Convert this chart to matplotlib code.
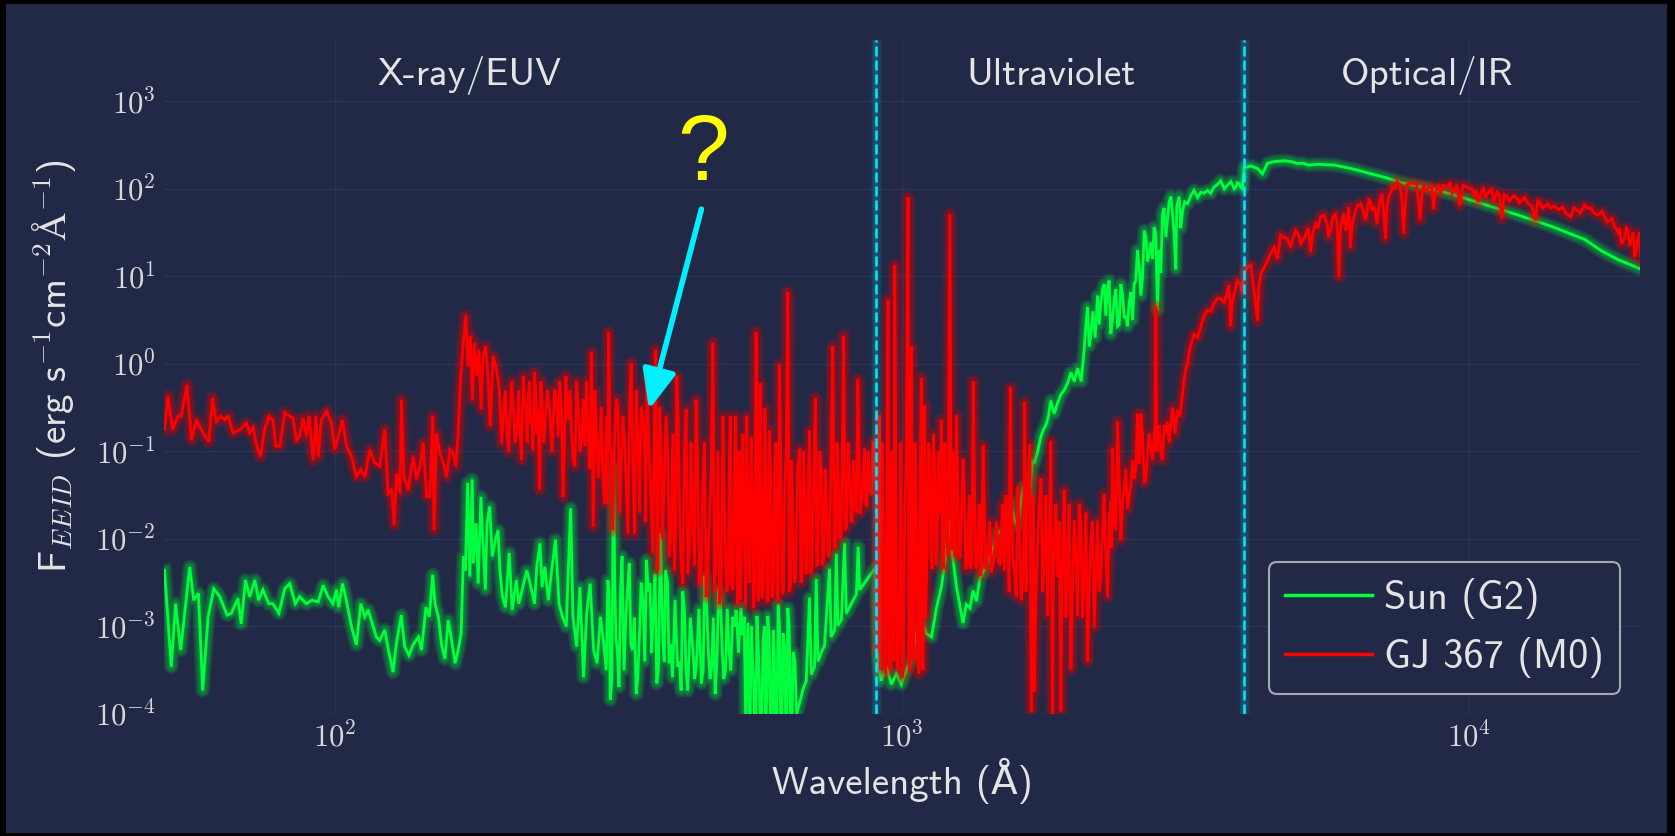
import numpy as np
import matplotlib
matplotlib.use("Agg")
import matplotlib.pyplot as plt
from matplotlib.patches import Rectangle
from matplotlib.ticker import FixedLocator, FuncFormatter, NullLocator
from matplotlib.font_manager import FontProperties

plt.rcParams['mathtext.fontset'] = 'cm'

# ---------------- data: (wavelength [Angstrom], log10 flux [erg s-1 cm-2 A-1]) ----------------
sun_xray = [(50.1,-2.36),(51.5,-3.46),(52.4,-2.74),(53.5,-3.27),(55.5,-2.32),(56.4,-2.70),(57.5,-2.62),
            (58.5,-3.73),(59.8,-2.89),(61.2,-2.57),(62.7,-2.66),(64.6,-2.87),(65.7,-2.85),(67.5,-2.68),
            (68.4,-2.97),(69.6,-2.47),(70.8,-2.66),(72.3,-2.47),(73.4,-2.70),(74.7,-2.58),(76.5,-2.74),
            (77.8,-2.74),(79.7,-2.85),(81.6,-2.57),(83.3,-2.51),(85.2,-2.74),(86.7,-2.66),(89.1,-2.74),
            (91.2,-2.70),(93.5,-2.72),(95.4,-2.53),(97.3,-2.66),(99.3,-2.74),(100.7,-2.58),(101.6,-2.78),
            (103.2,-2.51),(104.8,-2.70),(107.0,-3.00),(109.2,-3.21),(111.1,-2.74),(113.0,-2.89),
            (114.5,-2.81),(116.0,-2.93),(118.4,-3.12),(120.0,-3.16),(122.5,-3.04),(124.5,-3.29),
            (126.7,-3.52),(128.4,-3.20),(131.0,-2.87),(132.8,-3.23),(135.2,-3.33),(137.4,-3.21),
            (140.5,-3.12),(142.2,-3.27),(144.8,-2.78),(146.8,-2.89),(148.8,-2.41),(150.2,-2.74),
            (152.3,-2.89),(154.3,-3.21),(156.4,-3.37),(158.5,-2.93)]
sun_euv = [(160,-3.08),(163,-3.42),(165,-3.27),(167,-3.08),(168.6,-2.20),(170,-2.36),(171.5,-1.36),
           (173,-2.43),(174.7,-1.32),(175.5,-2.28),(177.5,-1.82),(179,-2.51),(181,-1.52),(182.5,-2.05),
           (184.3,-2.58),(185.5,-1.82),(187.5,-1.63),(189.5,-2.20),(192,-2.01),(194,-1.90),(195.5,-2.36),
           (197.5,-2.66),(200,-2.78),(203,-2.16),(205.5,-2.81),(209,-2.47),(211,-2.74),(214,-2.58),
           (218,-2.36),(221,-2.51),(225,-2.74),(227,-2.32),(230,-2.05),(232,-2.55),(234.5,-2.32),
           (238,-2.70),(240.5,-2.43),(245,-2.01),(248.5,-2.74),(252,-2.89),(256,-3.00),(257.5,-2.51),
           (260.5,-1.65),(263,-2.89),(267,-3.23),(270.5,-2.55),(274.5,-3.58),(278,-2.85),(282,-2.51),
           (286,-3.27),(290,-3.42),(294,-2.89),(298,-3.20),(303,-2.47),(306,-3.84),(310,-1.17),
           (313,-3.12),(317,-3.69),(321,-2.20),(326,-2.89),(330.5,-2.28),(335,-3.27),(340,-3.77),
           (344.5,-3.08),(349.5,-2.70),(354.5,-2.24),(359.5,-2.51),(364.5,-2.81),(369.5,-3.65),
           (375,-1.94),(379,-3.20),(383,-2.36),(388.5,-3.42),(394,-3.58),(402,-3.46),(408,-3.73),
           (413.5,-2.81),(419,-3.73),(428,-3.27),(434,-3.46),(443,-3.65),(449,-2.43),(455.5,-3.27),
           (462,-3.46),(468.5,-3.77),(475,-2.58),(482,-3.27),(488.5,-3.50),(495.5,-3.27),(503,-2.89),
           (510,-2.81),(520,-2.79),(527,-2.89),(530,-4.00)]
sun_euv_lines = [(301,-3.5),(304.5,-2.6),(308,-3.6),(311.5,-2.4),(315,-3.3),(319,-2.6),(323.5,-3.5),
                 (328,-2.6),(332.7,-3.2),(337.5,-2.9),(342,-3.6),(347,-2.5),(352,-3.4),(357,-2.6),
                 (362,-3.3),(367,-2.4),(372,-3.5),(377,-2.6),(381,-3.4),(386,-2.5),(391,-3.2),(398,-2.7),
                 (405,-3.4),(410.5,-2.6),(416,-3.5),(423.5,-2.9),(431,-3.6),(438.5,-2.8),(446,-3.5),
                 (452,-2.7),(458.7,-3.6),(465,-2.9),(471.7,-3.4),(478.5,-2.7),(485,-3.6),(492,-2.8),
                 (499,-3.5),(506.5,-3.0),(515,-3.3),(523.5,-3.1)]
sun_lyc = [(535,-2.96),(540,-4.04),(545,-3.37),(550,-4.20),(555,-2.88),(562,-4.04),(569,-3.17),
           (575,-4.20),(580,-2.88),(586,-4.04),(593,-3.04),(598,-4.20),(605,-2.75),(611,-4.04),
           (617,-3.08),(624,-4.20),(629,-2.79),(636,-4.04),(643,-3.29),(652,-4.00),(661,-3.85),
           (669,-3.72),(678,-3.62),(687,-2.67),(692,-3.55),(701,-3.46),(706,-2.46),(711,-3.40),
           (720,-3.30),(730,-3.22),(745,-2.34),(750,-3.12),(761,-3.04),(766,-2.17),(771,-2.99),
           (782,-2.92),(792,-2.05),(798,-2.85),(814,-2.74),(831,-2.63),(837,-2.09),(842,-2.58),
           (859,-2.50),(877,-2.42),(899,-2.33)]
sun_lyc_lines = [(537.5,-4.2),(542.5,-3.0),(547.5,-3.6),(552.5,-4.2),(558.5,-3.3),(565.5,-4.2),(572,-3.0),
                 (577.5,-3.8),(583,-3.1),(589.5,-4.2),(595.5,-3.3),(601.5,-4.2),(608,-3.0),(614,-4.2),
                 (620.5,-3.2),(626.5,-4.2),(632.5,-3.0),(639.5,-4.2),(647.5,-3.4)]
sun_fuv = [(907,-3.37),(919,-3.62),(938,-3.46),(958,-3.66),(977,-3.54),(997,-3.66),(1018,-3.50),
           (1039,-3.37),(1060,-3.08),(1082,-2.92),(1104,-3.08),(1127,-3.12),(1150,-2.79),(1174,-2.54),
           (1197,-2.13),(1214,-1.80),(1227,-2.17),(1247,-2.54),(1264,-2.75),(1281,-2.96),(1298,-2.75),
           (1317,-2.79),(1335,-2.59),(1353,-2.71),(1371,-2.46),(1399,-2.34),(1427,-2.21),(1457,-2.05),
           (1478,-1.92)]
sun_nuv = [(1535,-1.92),(1579,-1.79),(1623,-1.53),(1657,-1.49),(1690,-1.27),(1710,-1.14),(1758,-0.83),
           (1794,-0.70),(1829,-0.42),(1855,-0.57),(1906,-0.35),(1958,-0.22),(2040,-0.05),(2095,0.17),
           (2124,0.65),(2153,0.34),(2212,0.78),(2241,0.69),(2272,0.91),(2303,0.87),(2334,0.34),
           (2366,0.74),(2399,0.43),(2431,0.91),(2465,0.52),(2498,0.43),(2532,0.82),(2566,0.91),
           (2601,1.30),(2637,0.78),(2673,1.52),(2709,1.17),(2746,1.39),(2783,1.56),(2821,0.61),
           (2859,1.04),(2898,1.78),(2938,1.65),(2978,1.91),(3018,1.48),(3039,1.08),(3080,1.91),
           (3122,1.74),(3186,1.83),(3273,1.98),(3364,1.96),(3455,1.98),(3549,2.02),(3646,2.09),
           (3745,2.04),(3852,2.00),(3902,2.07),(3952,2.02),(4010,2.24),(4121,2.26)]
sun_nuv_lines = [(1555,-1.6),(1600,-1.85),(1640,-1.4),(1675,-1.6),(1700,-1.1),(1734,-1.0),(1776,-0.75),
                 (1812,-0.6),(1842,-0.5),(1880,-0.45),(1932,-0.3),(1985,-0.1),(2012,-0.2),(2070,-0.2),
                 (2110,0.45),(2138,0.2),(2170,0.60),(2190,0.30),(2226,0.45),(2256,0.85),(2287,0.55),
                 (2318,0.95),(2350,0.50),(2382,0.85),(2415,0.45),(2448,0.80),(2481,0.55),(2515,0.70),
                 (2549,0.50),(2583,0.95),(2619,1.10),(2655,1.0),(2691,1.45),(2727,1.25),(2765,1.20),
                 (2802,1.50),(2840,1.30),(2878,1.70),(2918,1.45),(2958,1.85),(3000,1.70),(3050,1.80),
                 (3100,1.55),(3150,1.85),(3230,1.92),(3320,1.90),(3410,1.95),(3500,1.95),(3600,2.05),
                 (3700,2.0),(3800,2.08),(3880,2.02),(3930,2.06),(3980,2.0)]
sun_opt = [(4235,2.23),(4320,2.17),(4408,2.29),(4529,2.31),(4724,2.32),(4843,2.31),(4972,2.29),
           (5104,2.29),(5205,2.27),(5410,2.28),(5790,2.27),(6196,2.23),(6632,2.18),(7096,2.13),
           (7592,2.07),(8120,2.03),(9300,1.94),(10640,1.82),(12190,1.70),(13960,1.57),(15990,1.42),
           (17110,1.29),(18300,1.19),(20130,1.08)]

gj_xray = [(50.1,-0.75),(50.8,-0.37),(51.8,-0.75),(52.9,-0.60),(53.6,-0.60),(54.9,-0.24),(55.9,-0.87),
           (57.0,-0.64),(58.6,-0.79),(60.0,-0.89),(60.9,-0.39),(61.8,-0.66),(62.9,-0.60),(64.0,-0.64),
           (64.9,-0.60),(66.2,-0.79),(68.0,-0.75),(69.9,-0.68),(70.8,-0.79),(71.8,-0.73),(72.7,-0.92),
           (74.0,-1.06),(75.2,-0.75),(76.6,-0.60),(77.8,-0.64),(78.7,-0.94),(80.0,-0.94),(81.6,-0.56),
           (83.3,-0.60),(84.4,-0.62),(85.6,-0.87),(86.7,-0.83),(87.9,-0.62),(89.1,-0.83),(90.1,-0.60),
           (91.6,-1.10),(92.6,-0.60),(93.5,-1.06),(94.7,-0.64),(96.7,-0.54),(98.7,-0.68),(100,-0.98),
           (101.4,-0.83),(103.2,-0.64),(104.9,-0.94),(107.0,-1.06),(109.2,-1.29),(111.1,-1.21),
           (113.0,-1.29),(115.3,-0.98),(117.6,-1.13),(120.1,-1.17),(122.5,-0.75),(124.2,-1.48),
           (125.9,-1.44),(127.3,-1.84),(128.5,-1.25),(130.3,-1.48),(131.1,-0.41),(132.4,-1.29),
           (134.7,-1.44),(137.5,-1.06),(139.4,-1.32),(141.3,-1.17),(143.2,-0.90),(145.2,-1.52),
           (147.1,-1.52),(148.8,-0.60),(149.6,-1.90),(151.2,-0.79),(153.2,-1.02),(155.3,-1.13),
           (157.4,-1.29),(159.6,-0.98)]
gj_euv = [(161.6,-1.02),(163.4,-1.17),(164.9,-0.83),(166.5,-0.22),(168.3,0.20),(170.2,0.55),(171.8,-0.03),
          (173.4,0.32),(174.8,-0.41),(176.4,0.24),(178.1,-0.14),(179.5,0.16),(181.2,-0.52),(182.5,0.09),
          (184.5,0.20),(186.2,-0.14),(188.0,-0.71),(190.2,0.09),(192.8,-0.07),(195.0,-0.29),(196.9,-0.91),
          (198.8,-0.45),(201.0,-0.75),(203.8,-0.60),(206.5,-0.52),(209.8,-0.68),(212.0,-0.75),(215.0,-0.14),
          (217.3,-0.52),(219.3,-0.41),(221.3,-0.68),(223.6,-0.98),(226.0,-0.29),(228.0,-0.52),(229.7,-1.44),
          (232.0,-0.41),(235.2,-0.60),(239.0,-0.52),(244.0,-0.29),(247.6,-0.83),(251.0,-0.52),(252.6,-1.52),
          (255.5,-0.14),(258.0,-0.64),(261.5,-0.79),(265.0,-1.17),(268.8,-0.52),(272.4,-0.83),(276.0,-0.94),
          (279.8,-0.83),(283.6,0.13),(285.5,-1.86),(289.4,-0.79),(293.2,-0.98),(297.0,-1.29),(301.4,-0.60),
          (304.0,0.36),(307.3,-1.06),(311.5,-0.83),(315.8,-0.52),(320.0,-1.13),(324.4,-0.91),(328.7,-1.94),
          (333.2,0.01),(337.8,-1.94),(342.4,-0.83),(347.0,-0.49),(351.8,-0.98),(355.0,-0.14),(358.8,-1.13),
          (363.7,-2.16),(367.7,0.16),(371.0,-2.36),(376.0,-0.91),(381.0,-1.36),(386.5,-1.06),(391.8,-1.94),
          (397.0,-2.36),(400.8,-0.14),(405.3,-1.67),(410.7,-2.51),(416.3,-0.52),(422.0,-2.13),(427.6,-1.74),
          (433.5,-0.41),(439.4,-2.51),(445.5,-1.36),(451.6,-2.66),(457.7,-1.74),(464.0,0.24),(470.5,-2.13),
          (477.0,-2.74),(483.4,-0.60),(488.8,-2.32),(494.0,-2.51),(498.0,-0.60),(503.5,-2.58),(509.0,-0.60),
          (513.5,-2.74)]
gj_euv_lines = [(200,-0.3),(202.5,-1.0),(205,-0.2),(208,-0.9),(211,-0.3),(213.5,-1.1),(216,-0.4),
                (218.3,-0.9),(220.3,-0.2),(222.5,-0.6),(224.8,-0.1),(227,-0.8),(230.8,-0.2),(233.6,-0.9),
                (237,-0.3),(241.5,-1.0),(245.8,-0.4),(249.3,-0.2),(254,-0.9),(256.7,-0.5),(259.8,-0.3),
                (263.2,-1.1),(266.9,-0.2),(270.6,-1.0),(274.2,-0.4),(277.9,-0.2),(281.7,-1.2),(287.5,-0.3),
                (291.3,-1.3),(295,-0.5),(299,-1.6),(302.5,-1.6),(305.5,-0.9),(309,-1.9),(313.5,-0.4),
                (318,-1.7),(322,-0.6),(326.5,-1.4),(331,-0.5),(335.5,-1.2),(340,-0.3),(344.7,-1.7),
                (349.5,-0.6),(353.5,-1.8),(357,-0.7),(361,-1.6),(365.7,-0.8),(369.5,-1.9),(373.5,-0.5),
                (378.5,-2.0),(383.7,-0.6),(389,-2.2),(394.5,-0.8),(399,-1.9),(403,-0.6),(408,-2.3),
                (413.5,-1.0),(419,-2.4),(424.8,-0.9),(430.5,-2.3),(436.5,-1.2),(442.5,-2.5),(448.5,-0.9),
                (454.7,-2.4),(461,-1.2),(467,-2.6),(473.7,-1.0),(480.2,-2.5),(486,-1.5),(491.4,-2.6),
                (496,-1.2),(500.7,-2.5),(506.2,-1.4),(511.2,-2.4),(516,-1.0),(519,-2.7)]
gj_lyc = [(524,-0.80),(530,-2.75),(535,-1.71),(542,-0.84),(547,-2.79),(553,0.36),(558,-2.71),(562,-0.22),
          (567,-2.67),(573,-0.51),(578,-2.71),(584,-0.76),(590,-2.67),(596,-1.30),(602,-2.63),(608,-0.01),
          (615,-2.63),(621,-1.51),(629,0.82),(636,-2.54),(642,-1.71),(649,-2.46),(660,-0.97),(667,-2.42),
          (674,-1.51),(680,-2.38),(687,-0.76),(694,-2.34),(704,-0.39),(711,-2.29),(721,-1.22),(728,-2.21),
          (737,-1.71),(745,-2.13),(755,0.20),(764,-2.09),(772,-1.30),(781,-1.96),(789,0.32),(798,-1.88),
          (809,-1.30),(817,-1.80),(826,-1.55),(836,-0.18),(844,-1.71),(851,-1.51),(859,-0.97),(867,-1.63),
          (877,-1.42),(889,-0.88),(899,-1.51)]
gj_lyc_lines = [(527,-1.9),(532.5,-0.6),(538,-2.5),(544.5,-1.4),(550,-2.6),(555.5,-1.0),(560,-2.6),
                (564.5,-1.3),(570,-2.5),(575.5,-1.1),(581,-2.7),(587,-1.4),(593,-2.6),(599,-0.9),(605,-2.7),
                (611.5,-1.2),(618,-2.6),(625,-1.0),(632.5,-2.6),(639,-1.1),(645.5,-2.5),(654.5,-1.2),
                (663.5,-2.5),(670.5,-1.0),(677,-2.4),(683.5,-1.3),(690.5,-2.4),(699,-1.2),(707.5,-2.3),
                (716,-1.0),(724.5,-2.3),(732.5,-1.2),(741,-2.2),(750,-1.0),(759.5,-2.1),(768,-0.9),
                (776.5,-2.0),(785,-1.0),(793.5,-1.9),(803.5,-0.9),(813,-1.8),(821.5,-1.1),(831,-1.7),
                (840,-1.0),(847.5,-1.6),(855,-1.2),(863,-1.6),(872,-1.0),(883,-1.5),(894,-1.1)]
gj_fuv = [(901,-1.71),(907,-2.96),(913,-0.59),(919,-3.46),(928,-2.13),(936,-3.54),(945,0.73),(954,-3.50),
          (964,-2.34),(971,1.13),(980,-3.46),(991,-2.54),(1001,-3.58),(1011,-1.71),(1025,1.90),(1032,-3.50),
          (1039,0.20),(1049,-3.37),(1060,-1.71),(1071,-3.54),(1082,-0.16),(1089,-3.50),(1096,-0.47),
          (1107,-2.13),(1119,-1.01),(1130,-2.34),(1142,-1.17),(1153,-2.13),(1166,-1.71),(1173,-0.64),
          (1184,-2.34),(1197,-1.71),(1214,1.71),(1223,-2.13),(1234,-1.51),(1247,-0.59),(1260,-2.21),
          (1273,-1.71),(1281,-1.09),(1295,-2.34),(1307,-1.92),(1320,-2.34),(1335,-0.20),(1349,-2.34),
          (1362,-2.05),(1375,-2.42),(1390,-0.93),(1405,-2.34),(1418,-2.13),(1437,-2.38),(1457,-2.13),
          (1478,-2.25)]
gj_fuv_lines = [(904,-3.3),(910,-1.2),(916,-3.5),(922,-0.9),(932,-3.3),(940,-1.4),(949,-3.4),(958,-1.0),
                (967,-3.4),(975,-1.2),(985,-3.5),(995,-0.9),(1006,-3.4),(1018,-1.0),(1028,-3.3),(1035,-1.3),
                (1044,-3.4),(1054,-0.9),(1065,-3.4),(1076,-1.4),(1085,-3.3),(1092,-1.1),(1101,-2.9),
                (1113,-0.9),(1124,-2.2),(1136,-0.8),(1148,-2.3),(1160,-1.0),(1178,-2.2),(1190,-0.9),
                (1205,-2.2),(1229,-1.0),(1240,-2.2),(1254,-1.3),(1266,-2.2),(1288,-1.5),(1301,-2.3),
                (1314,-1.5),(1328,-2.3),(1342,-1.4),(1356,-2.3),(1368,-1.6),(1382,-2.3),(1397,-1.7),
                (1411,-2.3),(1428,-1.8),(1447,-2.3),(1467,-1.8),(1490,-2.3),(1503,-1.6)]
gj_nuv = [(1515,-2.36),(1535,-2.01),(1552,-0.27),(1568,-2.23),(1590,-2.66),(1611,-2.01),(1634,-2.44),
          (1645,-0.44),(1663,-1.57),(1680,-0.92),(1690,-3.97),(1702,-2.44),(1710,-3.75),(1734,-2.01),
          (1758,-1.31),(1781,-2.23),(1806,-2.88),(1818,-1.83),(1829,-0.88),(1842,-4.06),(1855,-2.01),
          (1880,-2.44),(1906,-3.97),(1919,-2.23),(1932,-1.44),(1958,-2.44),(1985,-3.49),(2012,-1.79),
          (2040,-2.88),(2067,-1.83),(2095,-2.44),(2124,-3.40),(2153,-2.01),(2182,-3.01),(2212,-1.79),
          (2241,-2.44),(2272,-1.49),(2303,-2.66),(2334,-1.57),(2350,-0.96),(2366,-1.79),(2399,-0.66),
          (2431,-2.01),(2465,-1.40),(2498,-1.66),(2532,-1.40),(2566,-1.31),(2601,-0.57),(2619,-1.14),
          (2637,-0.57),(2673,-1.36),(2709,-1.05),(2746,-0.96),(2783,-0.83),(2802,0.65),(2821,-0.83),
          (2859,-1.01),(2898,-0.70),(2938,-0.66),(2978,-0.70),(3059,-0.53),(3122,-0.35),(3165,-0.05),
          (3208,0.13),(3273,0.34),(3364,0.43),(3455,0.61),(3549,0.69),(3646,0.74),(3745,0.82),
          (3796,0.43),(3852,0.80),(3952,0.91),(4010,1.04),(4121,1.13)]
gj_nuv_lines = [(1525,-1.5),(1545,-2.6),(1560,-1.6),(1580,-2.4),(1600,-1.4),(1622,-2.7),(1640,-1.7),
                (1655,-2.6),(1672,-1.3),(1695,-2.0),(1705,-1.5),(1722,-2.7),(1746,-1.6),(1770,-2.6),
                (1793,-1.5),(1812,-2.2),(1824,-1.4),(1848,-2.5),(1868,-1.6),(1893,-1.8),(1912,-2.8),
                (1925,-1.8),(1945,-2.9),(1971,-1.6),(1998,-2.6),(2026,-2.2),(2053,-1.6),(2081,-2.9),
                (2110,-1.7),(2138,-2.6),(2167,-1.8),(2197,-2.4),(2226,-2.6),(2256,-1.9),(2287,-2.2),
                (2318,-1.8),(2342,-2.1),(2358,-1.4),(2382,-1.9),(2415,-1.3),(2448,-1.6),(2481,-1.2),
                (2515,-1.5),(2549,-1.1),(2583,-1.2),(2610,-0.9),(2628,-1.0),(2655,-0.8),(2691,-1.3),
                (2727,-0.8),(2765,-1.1),(2793,-0.7),(2812,-1.0),(2840,-0.7),(2878,-1.1),(2918,-0.8),
                (2958,-0.9),(3000,-0.5),(3030,-0.8),(3090,-0.6),(3140,-0.2),(3186,0.0),(3240,0.25),
                (3320,0.30),(3410,0.55),(3500,0.60),(3600,0.75),(3700,0.70),(3770,0.90),(3820,0.70),
                (3900,0.95),(3980,0.82),(4060,1.10)]
gj_opt = [(4235,0.49),(4292,1.03),(4408,1.18),(4529,1.33),(4651,1.47),(4778,1.43),(4843,1.33),(4942,1.52),
          (5043,1.37),(5146,1.47),(5251,1.28),(5358,1.60),(5467,1.68),(5617,1.60),(5693,1.52),(5810,1.71),
          (5889,0.99),(5969,1.64),(6050,1.52),(6133,1.79),(6174,1.33),(6258,1.68),(6429,1.83),(6560,1.64),
          (6649,1.87),(6739,1.75),(6878,1.60),(7020,1.94),(7115,1.43),(7212,1.91),(7310,2.02),(7460,2.08),
          (7662,1.49),(7766,2.04),(7977,2.06),(8194,1.64),(8306,2.04),(8532,2.02),(8648,1.77),(8765,2.00),
          (8900,1.95),(9004,2.04),(9250,2.06),(9400,1.98),(9628,1.81),(9760,2.04),(10020,2.00),(10200,1.93),
          (10370,1.85),(10590,2.00),(10800,1.96),(11180,1.96),(11410,1.66),(11640,1.92),(11900,1.90),
          (12130,1.89),(12400,1.87),(12640,1.85),(12900,1.80),(13080,1.64),(13350,1.83),(13600,1.80),
          (13920,1.78),(14400,1.76),(14800,1.72),(15110,1.68),(15500,1.75),(15960,1.81),(16400,1.78),
          (16850,1.70),(17000,1.72),(17320,1.68),(17700,1.64),(18040,1.56),(18300,1.50),(18540,1.37),
          (18800,1.45),(19050,1.52),(19300,1.40),(19580,1.22),(19850,1.45),(20130,1.18)]
gj_opt_lines = [(4260,0.9),(4350,1.1),(4460,1.25),(4590,1.2),(4700,1.45),(4900,1.45),(5000,1.48),
                (5090,1.40),(5200,1.55),(5300,1.50),(5410,1.55),(5540,1.70),(5650,1.45),(5750,1.68),
                (5850,1.60),(5930,1.55),(6010,1.72),(6090,1.60),(6210,1.55),(6340,1.80),(6500,1.75),
                (6600,1.72),(6700,1.85),(6800,1.80),(6950,1.85),(7070,1.70),(7160,1.80),(7260,1.95),
                (7390,2.0),(7540,2.05),(7600,1.9),(7710,1.80),(7850,2.06),(8080,2.05),(8250,1.92),
                (8400,1.98),(8590,2.03),(8700,1.92),(8830,2.03),(8950,2.0),(9120,2.02),(9330,1.95),
                (9500,2.04),(9700,1.95),(9880,2.02),(10100,2.0),(10280,1.98),(10480,1.95),(10680,1.90),
                (10950,1.99),(11050,1.85),(11290,1.94),(11520,1.93),(11770,1.86),(12000,1.92),(12250,1.84),
                (12520,1.90),(12770,1.82),(13200,1.86),(13480,1.78),(13750,1.83),(14100,1.80),(14600,1.79),
                (14950,1.70),(15300,1.78),(15700,1.72),(16150,1.78),(16600,1.72),(17150,1.74),(17500,1.62),
                (17850,1.66),(18150,1.55),(18420,1.55),(18670,1.40),(18920,1.55),(19170,1.35),(19440,1.50),
                (19700,1.30),(19950,1.50),(20050,1.25)]

series_labels = ["Sun (G2)", "GJ 367 (M0)"]
region_labels = ["X-ray/EUV", "Ultraviolet", "Optical/IR"]
region_label_wl = [173, 1828, 8436]
region_bounds = [900, 4000]
arrow_tail = (443, 58.5)
arrow_tip = (358, 0.30)
qmark_pos = (446, 235)
x_ticks = [1e2, 1e3, 1e4]
y_ticks = [1e-4, 1e-3, 1e-2, 1e-1, 1e0, 1e1, 1e2, 1e3]


def build(*segments):
    pts = sorted(p for seg in segments for p in seg)
    wl = np.array([p[0] for p in pts])
    lf = np.array([p[1] for p in pts])
    return wl, 10.0 ** lf


sun_wl, sun_flux = build(sun_xray, sun_euv, sun_euv_lines, sun_lyc, sun_lyc_lines, sun_fuv,
                         sun_nuv, sun_nuv_lines, sun_opt)
gj_wl, gj_flux = build(gj_xray, gj_euv, gj_euv_lines, gj_lyc, gj_lyc_lines, gj_fuv, gj_fuv_lines,
                       gj_nuv, gj_nuv_lines, gj_opt, gj_opt_lines)

# ---------------- style ----------------
BG = '#212946'
GRID = '#2A3459'
TXT = '#e4e4e4'
GREEN = '#00ff3c'
RED = '#ff0000'
CYAN = '#08e8f8'
SANS = ['cmss10', 'DejaVu Sans']
ANG = '\u212b'   # Angstrom sign (drawn from the STIX fallback inside mathtext)

W, H = 1675, 836
fig = plt.figure(figsize=(W / 100, H / 100), dpi=100)
fig.patch.set_facecolor('black')
fig.add_artist(Rectangle((6 / W, 3 / H), (W - 14) / W, (H - 7) / H, transform=fig.transFigure,
                         facecolor=BG, edgecolor='none', zorder=-10))

ax = fig.add_axes([164 / W, 1 - 714 / H, (1640 - 164) / W, (714 - 40) / H])
ax.set_facecolor(BG)
ax.set_xscale('log')
ax.set_yscale('log')
ax.set_xlim(50, 2.0e4)
ax.set_ylim(1e-4, 5e3)
for s in ax.spines.values():
    s.set_visible(False)
ax.set_axisbelow(True)
ax.grid(True, color=GRID, lw=1.0)

fmt = FuncFormatter(lambda v, p: r'$\mathrm{10^{%d}}$' % int(round(np.log10(v))))
ax.xaxis.set_major_locator(FixedLocator(x_ticks))
ax.yaxis.set_major_locator(FixedLocator(y_ticks))
ax.xaxis.set_minor_locator(NullLocator())
ax.yaxis.set_minor_locator(NullLocator())
ax.xaxis.set_major_formatter(fmt)
ax.yaxis.set_major_formatter(fmt)
ax.tick_params(axis='both', length=0, labelsize=22, labelcolor='#d8d8d8')
ax.tick_params(axis='x', pad=6)
ax.tick_params(axis='y', pad=6)


def glow(x, y, color, lw, z, label=None, n=10, diff=0.9, alpha=0.6, **kw):
    ln, = ax.plot(x, y, color=color, lw=lw, zorder=z, label=label, solid_joinstyle='miter', **kw)
    for i in range(1, n + 1):
        ax.plot(x, y, color=color, lw=lw + diff * i, alpha=alpha / n, zorder=z - 0.5, **kw)
    return ln


glow(sun_wl, sun_flux, GREEN, 2.0, 3, label=series_labels[0])
glow(gj_wl, gj_flux, RED, 2.0, 4, label=series_labels[1])

for b in region_bounds:
    ax.axvline(b, color=CYAN, lw=1.8, ls=(0, (4, 1.6)), zorder=5)
    for i in range(1, 6):
        ax.axvline(b, color=CYAN, lw=1.8 + 1.2 * i, alpha=0.05, zorder=4.5)

trans = ax.get_xaxis_transform()
for lab, wl in zip(region_labels, region_label_wl):
    ax.text(wl, 0.933, lab, transform=trans, ha='center', va='baseline', color=TXT,
            fontsize=28, family=SANS, zorder=6)

ax.annotate('', xy=arrow_tip, xytext=arrow_tail,
            arrowprops=dict(arrowstyle='-|>,head_length=0.4,head_width=0.17', color='#00f0ff',
                            lw=4, mutation_scale=60, shrinkA=0, shrinkB=0), zorder=7)
ax.text(*qmark_pos, '?', color='#ffff00', fontsize=67, ha='center', va='center',
        family=['Liberation Sans', 'DejaVu Sans'], zorder=7)

ax.set_xlabel('Wavelength (Å)', fontsize=28, color=TXT, family=SANS)
ax.xaxis.set_label_coords(0.5, -0.065)
ax.set_ylabel(r'F$_{EEID}$ (erg s$^{\mathrm{-1}}$cm$^{\mathrm{-2}}$' + '$' + ANG + r'^{\mathrm{-1}}$)',
              fontsize=28, color=TXT, family=SANS)
ax.yaxis.set_label_coords(-0.058, 0.516)

leg = ax.legend(loc='lower right', prop=FontProperties(family=SANS, size=29), handlelength=2.15,
                handletextpad=0.3, borderaxespad=0.5, frameon=True, fancybox=True, labelspacing=0.45)
leg.get_frame().set_facecolor(BG)
leg.get_frame().set_edgecolor('#a8a8b0')
leg.get_frame().set_alpha(1.0)
leg.get_frame().set_linewidth(1.5)
for t in leg.get_texts():
    t.set_color(TXT)
for h in leg.get_lines():
    h.set_linewidth(2.5)

fig.savefig('out.png', dpi=100, facecolor=fig.get_facecolor())
